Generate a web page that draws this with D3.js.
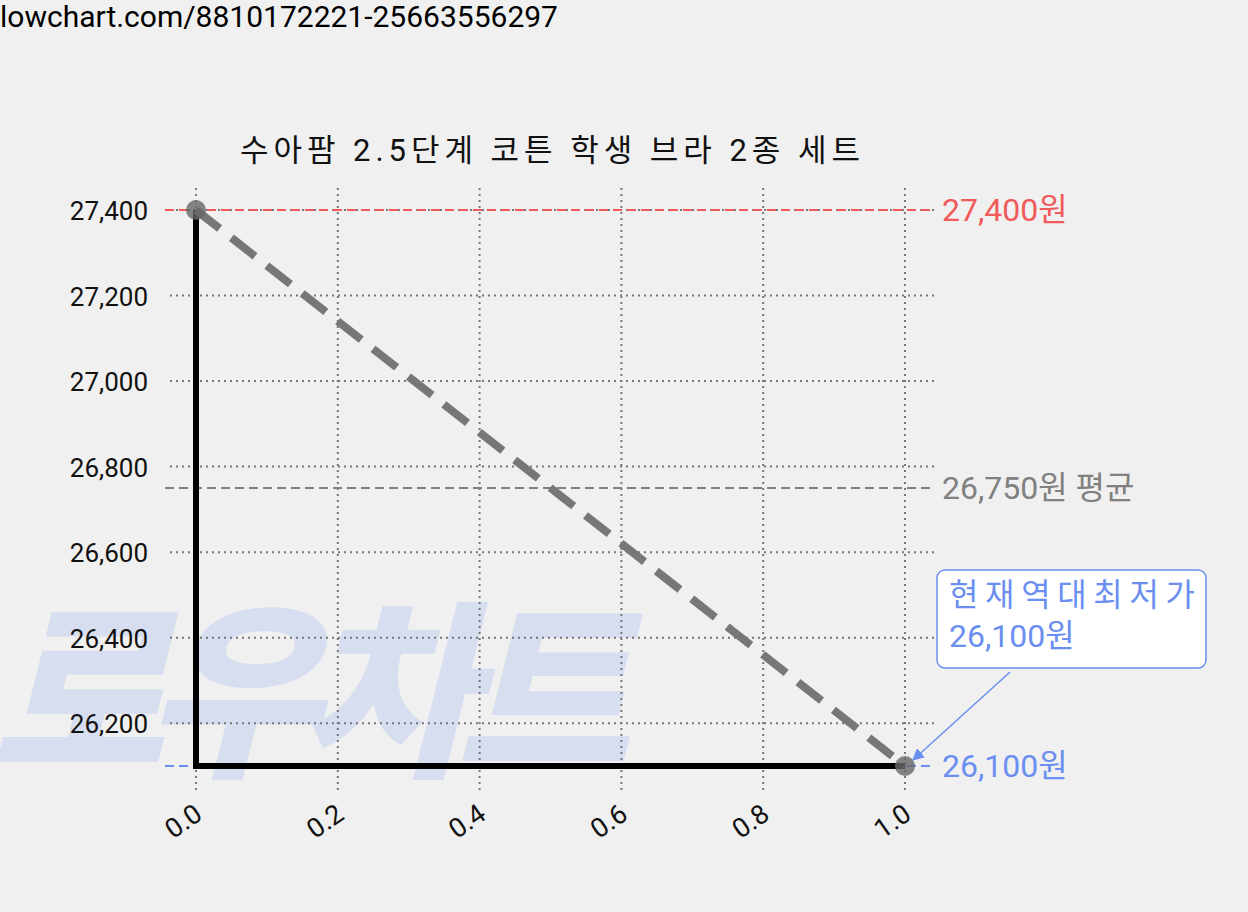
<!DOCTYPE html>
<html><head><meta charset="utf-8">
<script src="https://cdn.jsdelivr.net/npm/d3@7"></script>
<style>body{margin:0;background:#f0f0f0;}svg{display:block;font-family:Roboto,"Noto Sans CJK KR","Noto Sans",sans-serif;}</style>
</head><body>
<script>
const xs = [0, 1];
const prices = [27400, 26100];
const yTicks = [26200, 26400, 26600, 26800, 27000, 27200, 27400];
const xTicks = [0, 0.2, 0.4, 0.6, 0.8, 1.0];
const maxPrice = 27400, minPrice = 26100, avgPrice = 26750;
const title = "수아팜 2.5단계 코튼 학생 브라 2종 세트";

const W = 1248, H = 912;
const svg = d3.select("body").append("svg").attr("width", W).attr("height", H);
svg.append("rect").attr("width", W).attr("height", H).attr("fill", "#f0f0f0");
const x = d3.scaleLinear().domain([0, 1]).range([196, 905]);
const y = d3.scaleLinear().domain([26100, 27400]).range([766, 210]);

svg.append("text").attr("x", 0).attr("y", 27).attr("font-size", 30).attr("fill", "#000").text("lowchart.com/8810172221-25663556297");

// watermark
svg.append("text").attr("x", -10).attr("y", 762).attr("font-size", 190).attr("font-weight", 900)
  .attr("font-style", "italic").attr("fill", "#d6def0").attr("textLength", 640)
  .attr("font-family", "Noto Sans CJK KR").text("로우차트");

// grid
const g = svg.append("g");
yTicks.forEach(t => g.append("line").attr("x1", 170).attr("x2", 935).attr("y1", y(t)).attr("y2", y(t))
  .attr("stroke", "#777").attr("stroke-width", 2).attr("stroke-dasharray", "2,4"));
xTicks.forEach(t => g.append("line").attr("x1", x(t)).attr("x2", x(t)).attr("y1", 188).attr("y2", 792)
  .attr("stroke", "#777").attr("stroke-width", 2).attr("stroke-dasharray", "2,4"));

yTicks.forEach(t => svg.append("text").attr("x", 148).attr("y", y(t) + 10).attr("text-anchor", "end")
  .attr("font-size", 26).attr("fill", "#111").text(d3.format(",")(t)));
xTicks.forEach(t => svg.append("text").attr("transform", `translate(${x(t)+8},${818}) rotate(-35)`)
  .attr("text-anchor", "end").attr("font-size", 27).attr("fill", "#111").text(t.toFixed(1)));

svg.append("text").attr("x", 550).attr("y", 161).attr("text-anchor", "middle").attr("font-size", 31).attr("fill", "#111")
  .attr("textLength", 620).text(title);

const refs = [[maxPrice, "#f05a5a", d3.format(",")(maxPrice) + "원"], [avgPrice, "#808080", d3.format(",")(avgPrice) + "원 평균"], [minPrice, "#6a8ff0", d3.format(",")(minPrice) + "원"]];
refs.forEach(([v, c, l]) => {
  svg.append("line").attr("x1", 165).attr("x2", 935).attr("y1", y(v)).attr("y2", y(v))
    .attr("stroke", c).attr("stroke-width", 2).attr("stroke-dasharray", "9,5");
  svg.append("text").attr("x", 942).attr("y", y(v) + 11).attr("font-size", 32).attr("fill", c).text(l);
});

svg.append("path").attr("d", `M${x(0)},${y(prices[0])}L${x(0)},${y(prices[1])}L${x(1)},${y(prices[1])}`)
  .attr("fill", "none").attr("stroke", "#000").attr("stroke-width", 6);
svg.append("path").attr("d", d3.line().x((d, i) => x(xs[i])).y(d => y(d))(prices))
  .attr("fill", "none").attr("stroke", "#777").attr("stroke-width", 8).attr("stroke-dasharray", "30,15");
prices.forEach((p, i) => svg.append("circle").attr("cx", x(xs[i])).attr("cy", y(p)).attr("r", 10).attr("fill", "#666").attr("opacity", 0.8));

svg.append("defs").append("marker").attr("id", "ar").attr("viewBox", "0 0 10 10").attr("refX", 9).attr("refY", 5)
  .attr("markerWidth", 8).attr("markerHeight", 8).attr("orient", "auto")
  .append("path").attr("d", "M0,0L10,5L0,10z").attr("fill", "#6a8ff0");
svg.append("line").attr("x1", 1010).attr("y1", 672).attr("x2", x(1) + 8).attr("y2", y(minPrice) - 6)
  .attr("stroke", "#6a8ff0").attr("stroke-width", 1.5).attr("marker-end", "url(#ar)");
svg.append("rect").attr("x", 937).attr("y", 570).attr("width", 269).attr("height", 98).attr("rx", 8)
  .attr("fill", "#fff").attr("stroke", "#6a8ff0").attr("stroke-width", 1.5);
svg.append("text").attr("x", 949).attr("y", 606).attr("font-size", 32).attr("fill", "#6a8ff0").attr("textLength", 246).text("현재역대최저가");
svg.append("text").attr("x", 949).attr("y", 647).attr("font-size", 32).attr("fill", "#6a8ff0").text(d3.format(",")(minPrice) + "원");
</script>
</body></html>
